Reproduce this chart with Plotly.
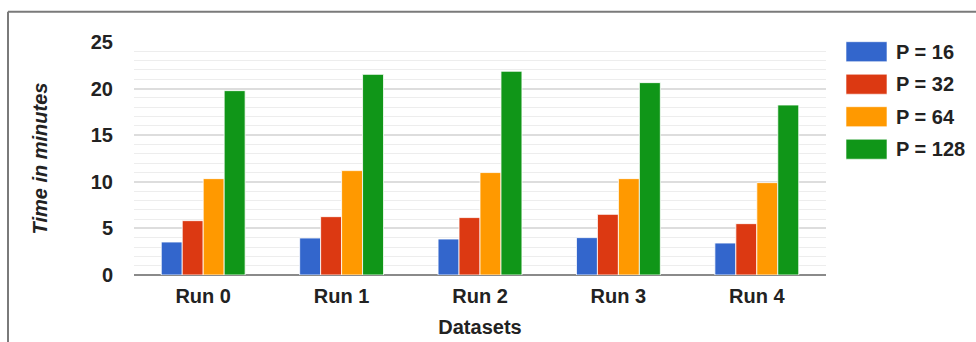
import plotly.graph_objects as go

# Benchmark timings (minutes) for each dataset run and process count
runs = ["Run 0", "Run 1", "Run 2", "Run 3", "Run 4"]
p16 = [3.54, 3.97, 3.86, 4.01, 3.43]
p32 = [5.83, 6.26, 6.16, 6.51, 5.51]
p64 = [10.34, 11.2, 10.99, 10.34, 9.91]
p128 = [19.78, 21.53, 21.86, 20.64, 18.24]

series_names = ["P = 16", "P = 32", "P = 64", "P = 128"]
series_values = [p16, p32, p64, p128]
series_colors = ["#3366cc", "#dc3912", "#ff9900", "#109618"]

y_ticks = [0, 5, 10, 15, 20, 25]

FONT = "Liberation Sans, Arial, sans-serif"
TEXT = "#222222"
FS = 20

W, H = 976, 342
L, R, T, B = 134, 150, 42, 67
PW, PH = W - L - R, H - T - B


def px_x(x):
    return (x - L) / PW


def px_y(y):
    return (H - B - y) / PH


fig = go.Figure()
for name, vals, col in zip(series_names, series_values, series_colors):
    fig.add_trace(go.Bar(
        x=runs, y=vals, name=name,
        marker=dict(color=col, line=dict(color="rgba(255,255,255,0.8)", width=1)),
        showlegend=False,
    ))

shapes = []
annotations = []

# legend: swatch + label per series
for i, (name, col) in enumerate(zip(series_names, series_colors)):
    top = 41.7 + i * 32.5
    shapes.append(dict(
        type="rect", xref="paper", yref="paper",
        x0=px_x(846), x1=px_x(887), y0=px_y(top), y1=px_y(top + 20),
        fillcolor=col, line=dict(color="rgba(255,255,255,0.6)", width=1),
    ))
    annotations.append(dict(
        text=f"<b>{name}</b>", xref="paper", yref="paper",
        x=px_x(894), y=px_y(top + 10), xanchor="left", yanchor="middle",
        showarrow=False, font=dict(family=FONT, size=FS, color=TEXT),
    ))

# outer frame (top and left edges)
shapes.append(dict(type="line", xref="paper", yref="paper",
                   x0=px_x(8), x1=px_x(990), y0=px_y(11.7), y1=px_y(11.7),
                   line=dict(color="#7a7a7a", width=2)))
shapes.append(dict(type="line", xref="paper", yref="paper",
                   x0=px_x(8), x1=px_x(8), y0=px_y(11.7), y1=px_y(360),
                   line=dict(color="#7a7a7a", width=2)))

fig.update_layout(
    width=W, height=H,
    margin=dict(l=L, r=R, t=T, b=B, pad=0),
    paper_bgcolor="white", plot_bgcolor="white",
    barmode="group", bargap=0.394, bargroupgap=0,
    font=dict(family=FONT, size=FS, color=TEXT),
    shapes=shapes, annotations=annotations,
    xaxis=dict(
        showgrid=False, showline=False, zeroline=False,
        tickvals=runs, ticktext=[f"<b>{r}</b>" for r in runs],
        tickfont=dict(family=FONT, size=FS, color=TEXT),
        ticklabelstandoff=7,
        title=dict(text="<b>Datasets</b>", standoff=13,
                   font=dict(family=FONT, size=FS, color=TEXT)),
        automargin=False,
    ),
    yaxis=dict(
        range=[0, 25], tickvals=y_ticks, ticktext=[f"<b>{v}</b>" for v in y_ticks],
        showgrid=True, gridcolor="#dddddd", gridwidth=2,
        minor=dict(dtick=1, showgrid=True, gridcolor="#ededed", gridwidth=1),
        zeroline=True, zerolinecolor="#8a8a8a", zerolinewidth=2,
        showline=False,
        tickfont=dict(family=FONT, size=FS, color=TEXT),
        ticklabelstandoff=20,
        title=dict(text="<b><i>Time in minutes</i></b>", standoff=37,
                   font=dict(family=FONT, size=FS, color=TEXT)),
        automargin=False,
    ),
)

fig.write_html("out.html")
